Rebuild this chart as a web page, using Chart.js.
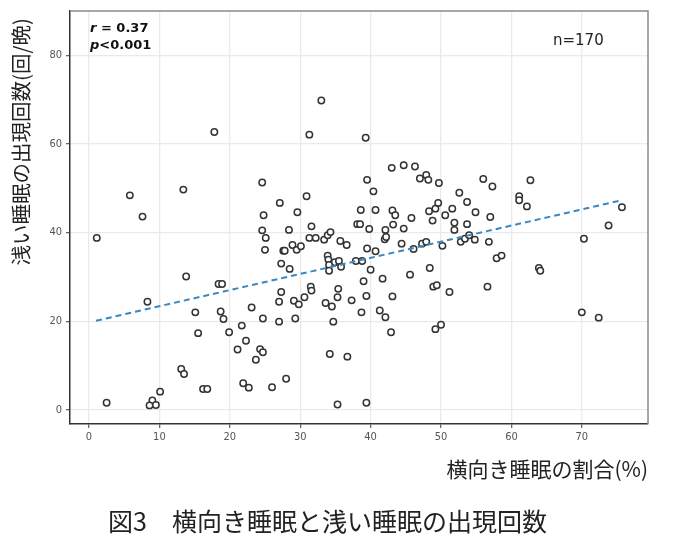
<!DOCTYPE html>
<html><head><meta charset="utf-8">
<script src="https://cdn.jsdelivr.net/npm/chart.js@4/dist/chart.umd.min.js"></script>
<style>html,body{margin:0;padding:0;background:#fff}</style>
</head><body>
<canvas id="c" width="682" height="552"></canvas>
<script>
// 横向き睡眠の割合(%)
const sidePct = [
17.8,33.0,31.3,39.3,5.8,7.6,1.1,13.4,13.8,18.4,18.9,8.3,15.1,18.7,19.1,23.1,15.5,19.9,21.7,21.1,22.3,24.3,23.7,13.1,13.5,10.1,16.2,16.8,21.9,22.7,2.5,9.0,8.6,9.5,24.7,
24.6,24.8,24.6,25.1,25.0,27.1,29.6,30.9,28.4,31.6,31.3,32.2,33.4,33.9,34.3,27.6,27.8,28.9,29.5,30.1,27.3,28.5,31.5,27.3,35.7,36.6,33.9,34.0,34.9,35.5,34.1,35.8,34.1,35.4,37.9,38.8,39.5,40.4,38.6,40.7,38.1,38.5,39.8,39.5,40.7,40.0,39.0,41.7,43.0,44.7,46.3,47.0,47.9,48.2,49.7,43.1,43.5,42.1,43.2,44.7,45.8,42.0,42.2,44.4,46.1,47.3,47.9,50.2,48.3,48.8,49.2,49.6,50.6,48.4,45.6,48.9,49.4,
24.7,27.0,27.0,29.1,29.8,29.3,30.6,31.6,33.6,34.5,35.3,34.7,37.3,39.4,38.7,41.3,42.1,42.9,43.1,49.2,50.0,51.2,26.0,28.0,34.2,36.7,35.3,39.4,
56.0,57.3,62.7,52.6,53.7,51.6,54.9,57.0,51.9,51.9,53.7,61.1,61.1,62.2,75.7,73.8,70.3,52.8,53.4,54.0,54.8,56.8,57.9,58.6,63.9,64.1,56.6,70.0,72.4
];
// 浅い睡眠の出現回数(回/晩)
const lightSleep = [
62.7,69.8,62.1,61.4,48.4,43.6,38.8,49.7,30.1,28.4,28.4,24.4,22.0,22.2,20.5,23.1,17.3,17.5,19.0,13.6,15.6,13.7,11.3,9.2,8.1,4.1,4.7,4.7,6.0,5.0,1.6,2.1,1.0,1.1,13.0,
51.3,43.9,40.5,38.8,36.1,46.7,44.6,48.2,40.6,41.4,38.8,38.8,38.4,39.4,40.1,35.9,35.9,37.2,36.1,36.9,33.0,31.8,27.8,26.6,38.1,37.2,34.8,33.9,33.3,33.6,32.7,32.3,31.4,27.3,33.6,33.6,51.9,49.3,45.1,45.1,41.9,41.9,40.8,36.4,35.8,31.6,29.0,29.6,54.6,55.2,54.9,52.2,53.0,51.9,51.2,45.0,43.9,40.6,41.8,40.9,43.3,38.5,39.0,37.5,36.3,37.5,37.9,37.0,44.8,42.7,45.4,46.7,43.9,32.0,30.5,27.8,28.1,
20.6,24.4,19.9,24.6,23.8,20.6,25.4,26.9,24.1,23.3,25.4,19.9,24.7,25.7,22.0,22.4,20.9,17.5,25.6,18.2,19.2,26.6,5.1,7.0,12.6,12.0,1.2,1.6,
52.1,50.4,51.8,49.0,46.9,45.4,44.6,43.5,42.2,40.6,41.9,48.2,47.3,45.9,45.7,41.6,38.6,37.9,38.6,39.4,38.4,37.9,34.2,34.8,32.0,31.4,27.8,22.0,20.8
];
// regression line end points
const fitX = [1.0, 75.7];
const fitY = [20.1, 47.3];
// tick labels
const xTicks = [0,10,20,30,40,50,60,70];
const yTicks = [0,20,40,60,80];
const xTitle = '横向き睡眠の割合(%)';
const yTitle = '浅い睡眠の出現回数(回/晩)';
const figTitle = '図3　横向き睡眠と浅い睡眠の出現回数';
const statR = ['r', ' = 0.37'];
const statP = ['p', '<0.001'];
const nLabel = 'n=170';

const points = sidePct.map((x,i)=>({x:x, y:lightSleep[i]}));
const fitLine = fitX.map((x,i)=>({x:x, y:fitY[i]}));

const CJK = "'Noto Sans CJK JP', 'Noto Sans', sans-serif";
const NARROW = "'Liberation Sans Narrow', 'DejaVu Sans Condensed', 'Liberation Sans', sans-serif";

const framePlugin = {
  id:'frame',
  beforeDatasetsDraw(chart){
    const {ctx, chartArea:a} = chart;
    ctx.save();
    ctx.strokeStyle = '#8a8a8a';
    ctx.lineWidth = 1.5;
    ctx.beginPath();
    ctx.moveTo(a.left, a.top); ctx.lineTo(a.right, a.top); ctx.lineTo(a.right, a.bottom);
    ctx.stroke();
    ctx.restore();
  },
  afterDraw(chart){
    const {ctx} = chart;
    ctx.save();
    ctx.fillStyle = '#111';
    ctx.textBaseline = 'middle';
    ctx.textAlign = 'left';
    const drawStat = (parts, x, y) => {
      ctx.font = "italic bold 13px 'DejaVu Sans', sans-serif";
      ctx.fillText(parts[0], x, y);
      const w = ctx.measureText(parts[0]).width;
      ctx.font = "bold 13px 'DejaVu Sans', sans-serif";
      ctx.fillText(parts[1], x + w, y);
    };
    drawStat(statR, 90, 29);
    drawStat(statP, 90, 46);
    ctx.fillStyle = '#222';
    ctx.font = "15px 'DejaVu Sans', sans-serif";
    ctx.fillText(nLabel, 553, 41);
    ctx.font = "25px " + CJK;
    ctx.fillText(figTitle, 108, 521);
    // y-axis title, rotated, reading bottom to top
    ctx.translate(21, 18);
    ctx.rotate(-Math.PI/2);
    ctx.textAlign = 'right';
    ctx.font = "20.5px " + CJK;
    ctx.fillText(yTitle, 0, 0);
    ctx.restore();
  }
};

new Chart(document.getElementById('c'), {
  type:'scatter',
  data:{datasets:[
    {data:points, pointRadius:3.2, pointHoverRadius:3.2, pointBorderWidth:1.5, pointBorderColor:'#333', pointBackgroundColor:'#fff', order:1},
    {type:'line', data:fitLine, borderColor:'#3a88c2', borderWidth:2, borderDash:[6,4], pointRadius:0, fill:false, tension:0, order:0}
  ]},
  options:{
    responsive:false, animation:false,
    layout:{padding:{top:11, right:34, left:0, bottom:68}},
    plugins:{legend:{display:false}, tooltip:{enabled:false}},
    scales:{
      x:{
        type:'linear', min:-2.7, max:79.4,
        afterBuildTicks:s=>{ s.ticks = xTicks.map(v=>({value:v})); },
        afterFit:s=>{ s.height = 60; },
        ticks:{font:{family:NARROW, size:11}, color:'#555', padding:3, maxRotation:0},
        grid:{color:'#ece8ee', lineWidth:1.3, tickColor:'#666', tickLength:4},
        border:{color:'#333', width:1.5},
        title:{display:true, text:xTitle, align:'end', color:'#222', font:{family:CJK, size:21}, padding:{top:0, bottom:2}}
      },
      y:{
        type:'linear', min:-3.2, max:90,
        afterBuildTicks:s=>{ s.ticks = yTicks.map(v=>({value:v})); },
        afterFit:s=>{ s.width = 70; },
        ticks:{font:{family:NARROW, size:11}, color:'#555', padding:4},
        grid:{color:'#ece8ee', lineWidth:1.3, tickColor:'#666', tickLength:4},
        border:{color:'#333', width:1.5}
      }
    }
  },
  plugins:[framePlugin]
});
</script>
</body></html>
